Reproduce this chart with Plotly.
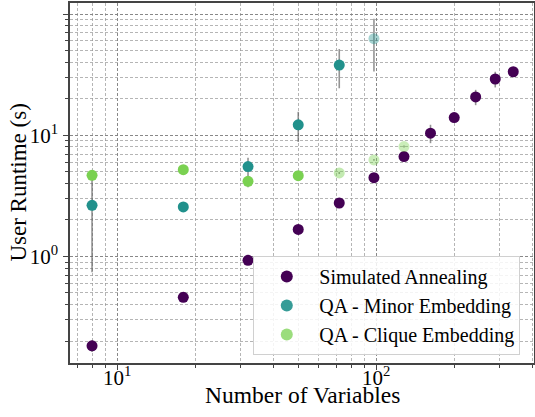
import plotly.graph_objects as go

# ---- data ----
n_vars = [8, 18, 32, 50, 72, 98, 128, 162, 200, 242, 288, 338]
sa_runtime = [0.183, 0.46, 0.93, 1.67, 2.76, 4.47, 6.67, 10.4, 14.0, 20.7, 29.1, 33.4]
sa_err = [0.02, 0.02, 0.05, 0.1, 0.15, 0.25, 0.3, 1.8, 0.6, 3.0, 4.3, 0.8]

minor_n = [8, 18, 32, 50, 72, 98]
minor_runtime = [2.64, 2.56, 5.51, 12.2, 37.9, 62.6]
minor_err = [1.9, 0.12, 1.0, 3.4, 13.5, 29.0]
minor_alpha = [1, 1, 1, 1, 1, 0.4]

clique_n = [8, 18, 32, 50, 72, 98, 128]
clique_runtime = [4.67, 5.2, 4.17, 4.64, 4.89, 6.26, 8.07]
clique_err = [0.05, 0.25, 0.45, 0.15, 0.1, 0.1, 0.15]
clique_alpha = [1, 1, 1, 1, 0.45, 0.4, 0.4]

series_names = ["Simulated Annealing", "QA - Minor Embedding", "QA - Clique Embedding"]
colors = ["#440154", "#21918c", "#7ad151"]

x_tickvals = [10, 100]
x_ticktext = ["10<sup>1</sup>", "10<sup>2</sup>"]
y_tickvals = [1, 10, 100]
y_ticktext = ["10<sup>0</sup>", "10<sup>1</sup>", "10<sup>2</sup>"]
x_title = "Number of Variables"
y_title = "User Runtime (s)"

FONT = "Liberation Serif"
err_style = dict(type="data", color="rgba(90,90,90,0.65)", thickness=1.6, width=0)

fig = go.Figure()
for name, xs, ys, es, al, c in [
    (series_names[0], n_vars, sa_runtime, sa_err, [1] * len(n_vars), colors[0]),
    (series_names[1], minor_n, minor_runtime, minor_err, minor_alpha, colors[1]),
    (series_names[2], clique_n, clique_runtime, clique_err, clique_alpha, colors[2]),
]:
    fig.add_trace(go.Scatter(
        x=xs, y=ys, mode="markers", name=name,
        marker=dict(color=c, size=11, opacity=al, line=dict(width=0)),
        error_y=dict(array=es, **err_style),
    ))

grid_major = "rgba(125,125,125,0.8)"
grid_minor = "rgba(150,150,150,0.7)"
DASH = "3px,2px"

axis_common = dict(
    type="log", showline=True, linecolor="#444", linewidth=1.5, mirror=True,
    ticks="outside", ticklen=5, tickcolor="#444", tickwidth=1,
    showgrid=True, gridcolor=grid_major, griddash=DASH, gridwidth=1,
    zeroline=False, automargin=False,
    tickfont=dict(family=FONT, size=21, color="black"),
)
minor_common = dict(dtick="D1", showgrid=True, gridcolor=grid_minor, griddash=DASH,
                    ticks="outside", ticklen=3, tickcolor="#444")

fig.update_xaxes(
    **axis_common,
    range=[0.818, 2.609],
    tickvals=x_tickvals, ticktext=x_ticktext,
    minor=minor_common,
    ticklabelstandoff=-10,
)
fig.update_yaxes(
    **axis_common,
    range=[-0.879, 2.091],
    tickvals=y_tickvals, ticktext=y_ticktext,
    minor=minor_common,
    ticklabelstandoff=1,
)

fig.add_annotation(
    text=x_title, xref="paper", yref="paper", x=0.5, y=-0.09,
    xanchor="center", yanchor="middle", showarrow=False,
    font=dict(family=FONT, size=23.5, color="black"),
)
fig.add_annotation(
    text=y_title, xref="paper", yref="paper", x=-0.113, y=0.50,
    xanchor="center", yanchor="middle", showarrow=False, textangle=-90,
    font=dict(family=FONT, size=23, color="black"),
)

fig.update_layout(
    width=535, height=417,
    margin=dict(l=70, r=1, t=3, b=54),
    paper_bgcolor="white", plot_bgcolor="white",
    font=dict(family=FONT, color="black"),
    legend=dict(
        x=0.395, y=0.297, xanchor="left", yanchor="top",
        bgcolor="rgba(255,255,255,0.85)", bordercolor="#d0d0d0", borderwidth=1,
        font=dict(family=FONT, size=20, color="black"),
        itemsizing="constant", itemwidth=55,
    ),
    showlegend=True,
)

fig.write_html("out.html", config={"displayModeBar": False},
               post_script="document.body.style.margin='0';")
